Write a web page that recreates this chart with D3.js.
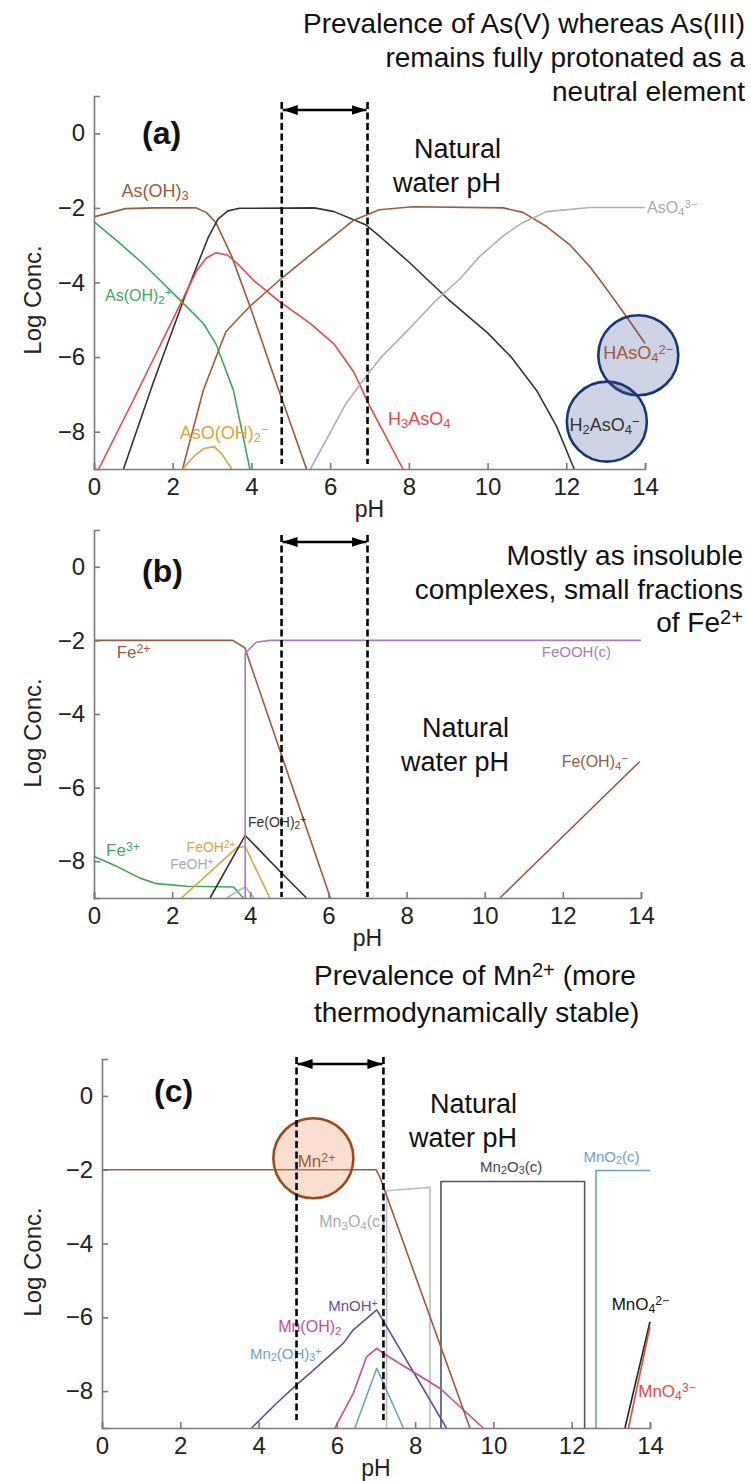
<!DOCTYPE html>
<html>
<head>
<meta charset="utf-8">
<script src="https://cdn.jsdelivr.net/npm/d3@7"></script>
<style>
body { margin: 0; background: #fff; }
svg text { font-family: "Liberation Sans", Arial, sans-serif; }
</style>
</head>
<body>
<svg id="chart" width="751" height="1481"></svg>
<script>
// axes
const phTicks = [0, 2, 4, 6, 8, 10, 12, 14];
const logTicks = [0, -2, -4, -6, -8];
const phDomain = [0, 14];
const logDomain = [-9, 1];

// (a) arsenic species  [pH, log conc]
const asOH3 = [[0,-2.24],[0.8,-2.02],[1.5,-2.0],[2.6,-2.0],[2.85,-2.12],[3.1,-2.4],[3.5,-3.3],[4.0,-4.75],[4.6,-6.6],[5.4,-9]];
const h2AsO4 = [[0.75,-9],[1.5,-6.7],[2.3,-4.4],[2.9,-2.8],[3.15,-2.3],[3.4,-2.08],[3.7,-2.01],[5.6,-2.0],[6.1,-2.1],[6.9,-2.45],[7.3,-2.8],[8.0,-3.45],[9.0,-4.45],[10.0,-5.35],[10.6,-6.0],[11.25,-6.9],[11.75,-7.85],[12.2,-9]];
const h3AsO4 = [[0.12,-9],[1.0,-7.15],[2.23,-4.5],[2.6,-3.7],[2.85,-3.35],[3.1,-3.2],[3.4,-3.27],[3.7,-3.55],[4.05,-3.94],[4.7,-4.5],[5.5,-5.1],[6.1,-5.65],[6.6,-6.4],[7.0,-7.3],[7.4,-8.1],[7.85,-9]];
const asOH2 = [[0,-2.37],[0.6,-2.9],[1.2,-3.45],[1.68,-3.94],[2.23,-4.52],[2.78,-5.1],[3.1,-5.65],[3.54,-6.88],[3.96,-9]];
const hAsO4 = [[2.25,-9],[2.78,-6.88],[3.35,-5.32],[3.95,-4.65],[4.75,-3.9],[5.65,-3.13],[6.6,-2.33],[7.25,-2.05],[8.1,-1.97],[10.4,-2.0],[10.9,-2.12],[11.5,-2.5],[12.1,-3.0],[12.6,-3.58],[12.86,-3.94],[13.2,-4.43],[13.53,-4.92],[14,-5.63]];
const asO4 = [[5.5,-9],[6.4,-7.25],[7.0,-6.4],[7.3,-6.0],[8.0,-5.25],[8.7,-4.47],[9.3,-3.9],[9.8,-3.3],[10.4,-2.75],[10.85,-2.42],[11.5,-2.1],[12.6,-1.99],[14,-1.99]];
const asOOH2 = [[2.25,-9],[2.55,-8.65],[2.8,-8.45],[3.05,-8.4],[3.25,-8.6],[3.5,-9]];
const circlesA = [[13.83,-5.95],[13.03,-7.73]];

// (b) iron species
const fe2 = [[0,-2],[3.55,-2],[3.86,-2.2],[6.05,-9]];
const feOOH = [[3.87,-9],[3.87,-2.35],[4.15,-2.05],[4.5,-2.0],[14,-2.0]];
const fe3 = [[0,-7.87],[0.58,-8.14],[1.18,-8.46],[1.6,-8.61],[2.37,-8.68],[3.57,-8.7],[3.82,-9]];
const feOH2p = [[2.24,-9],[3.65,-7.64],[3.87,-7.6],[4.5,-9]];
const feOH2 = [[2.97,-9],[3.87,-7.3],[4.8,-8.32],[5.44,-9]];
const feOHp = [[3.4,-9],[3.7,-8.8],[3.87,-8.7],[4.1,-9]];
const feOH4 = [[10.39,-9],[12.0,-7.33],[13.97,-5.29]];

// (c) manganese species
const mn2 = [[0,-2],[7.0,-2],[7.1,-2.2],[9.4,-9]];
const mn3O4 = [[7.27,-9],[7.27,-2.57],[8.38,-2.48],[8.38,-9]];
const mn2O3 = [[8.66,-9],[8.66,-2.32],[12.33,-2.32],[12.33,-9]];
const mnO2 = [[12.62,-9],[12.62,-2.02],[14,-2.02]];
const mnOHp = [[3.82,-9],[4.46,-8.33],[4.97,-7.83],[5.36,-7.47],[6.17,-6.7],[6.42,-6.34],[7.02,-5.8],[8.8,-9]];
const mnOH2 = [[5.95,-9],[6.42,-8.06],[6.76,-7.07],[7.02,-6.84],[7.19,-6.98],[8.64,-7.93],[9.74,-9]];
const mn2OH3 = [[6.46,-9],[7.02,-7.38],[7.7,-9]];
const mnO4_2 = [[13.36,-9],[14,-6.12]];
const mnO4_3 = [[13.45,-9],[14,-6.25]];
const circlesC = [[5.4,-1.69]];

// natural water pH band for each panel
const natA = [4.77, 6.95];
const natB = [4.8, 7.0];
const natC = [4.97, 7.19];

// colours
const brown = "#a0583c", green = "#3fa65a", red = "#f04444", orange = "#d9a443",
      grey = "#b0b0b0", dark = "#333333", purple = "#a67cc6", indigo = "#5b509f",
      magenta = "#c9489b", blue = "#6a9fd8";

const panels = [
  {
    x: [94, 645], y: [469, 96], nat: natA, arrowY: 110, dash: [102, 464],
    tag: [142, 144, "(a)"], natText: [501, 158], yLab: 300,
    series: [[asOH3, brown], [h2AsO4, dark], [h3AsO4, red], [asOH2, green], [hAsO4, brown], [asO4, grey], [asOOH2, orange]],
    circles: circlesA.map(c => [c, "rgba(60,82,150,0.26)", "#1b3675"]),
    labels: [
      ["As(OH)_{3}", 0.70, -1.71, brown, 18, "start"],
      ["As(OH)_{2}^{+}", 0.28, -4.49, green, 16, "start"],
      ["AsO(OH)_{2}^{−}", 2.18, -8.2, orange, 18, "start"],
      ["H_{3}AsO_{4}", 7.47, -7.82, red, 18, "start"],
      ["AsO_{4}^{3−}", 14.05, -2.14, "#aaaaaa", 16, "start"],
      ["HAsO_{4}^{2−}", 13.83, -6.05, brown, 18, "middle"],
      ["H_{2}AsO_{4}^{−}", 12.97, -7.97, dark, 18, "middle"]
    ],
    notes: [[745, "end", ["Prevalence of As(V) whereas As(III)", "remains fully protonated as a", "neutral element"], 33, 34]]
  },
  {
    x: [94, 641], y: [898, 530], nat: natB, arrowY: 542, dash: [535, 897],
    tag: [142, 582, "(b)"], natText: [509, 737], yLab: 733,
    series: [[fe3, green], [feOHp, grey], [feOH2p, orange], [feOH2, dark], [fe2, brown], [feOOH, purple], [feOH4, brown]],
    circles: [],
    labels: [
      ["Fe^{2+}", 0.58, -2.47, brown, 17, "start"],
      ["FeOOH(c)", 11.46, -2.45, purple, 15, "start"],
      ["Fe^{3+}", 0.31, -7.87, green, 17, "start"],
      ["FeOH^{2+}", 2.37, -7.76, orange, 14, "start"],
      ["FeOH^{+}", 1.95, -8.21, "#aaaaaa", 14, "start"],
      ["Fe(OH)_{2}^{+}", 3.94, -7.07, dark, 14, "start"],
      ["Fe(OH)_{4}^{−}", 11.97, -5.43, brown, 16, "start"]
    ],
    notes: [[743, "end", ["Mostly as insoluble", "complexes, small fractions", "of Fe^{2+}"], 565, 33.5]]
  },
  {
    x: [102, 650], y: [1428, 1059], nat: natC, arrowY: 1064, dash: [1057, 1420],
    tag: [154, 1102, "(c)"], natText: [517, 1113], yLab: 1262,
    series: [[mn3O4, "#bdbdbd"], [mn2O3, "#555555"], [mnO2, blue], [mnOHp, indigo], [mnOH2, magenta], [mn2OH3, blue], [mn2, brown], [mnO4_2, "#222222"], [mnO4_3, red]],
    circles: circlesC.map(c => [c, "rgba(240,150,100,0.3)", "#9c4a1c"]),
    labels: [
      ["Mn^{2+}", 5.48, -1.92, brown, 17, "middle"],
      ["Mn_{3}O_{4}(c)", 5.55, -3.54, "#aaaaaa", 16, "start"],
      ["Mn_{2}O_{3}(c)", 9.66, -2.05, "#444444", 15, "start"],
      ["MnO_{2}(c)", 12.3, -1.78, blue, 15, "start"],
      ["MnOH^{+}", 5.78, -5.83, indigo, 15, "start"],
      ["Mn(OH)_{2}", 4.5, -6.4, magenta, 16, "start"],
      ["Mn_{2}(OH)_{3}^{+}", 3.78, -7.13, blue, 15, "start"],
      ["MnO_{4}^{2−}", 13.02, -5.8, "#111111", 17, "start"],
      ["MnO_{4}^{3−}", 13.7, -8.15, red, 17, "start"]
    ],
    notes: [[314, "start", ["Prevalence of Mn^{2+} (more", "thermodynamically stable)"], 985, 37]]
  }
];

const svg = d3.select("#chart");

// arrow head
svg.append("defs").append("marker")
    .attr("id", "head")
    .attr("markerUnits", "userSpaceOnUse")
    .attr("viewBox", "0 0 15 10")
    .attr("markerWidth", 15)
    .attr("markerHeight", 10)
    .attr("refX", 15)
    .attr("refY", 5)
    .attr("orient", "auto-start-reverse")
  .append("path")
    .attr("d", "M0,0L15,5L0,10Z")
    .attr("fill", "#000");

// write text with _{sub} and ^{sup} parts
function rich(sel, str) {
  str.split(/(_\{[^}]*\}|\^\{[^}]*\})/).filter(s => s.length).forEach(function(s) {
    if (s[0] == "_" || s[0] == "^") {
      sel.append("tspan")
        .attr("font-size", "72%")
        .attr("baseline-shift", s[0] == "_" ? "-22%" : "38%")
        .text(s.slice(2, -1));
    } else {
      sel.append("tspan").text(s);
    }
  });
}

panels.forEach(function(p) {
  const x = d3.scaleLinear().domain(phDomain).range(p.x);
  const y = d3.scaleLinear().domain(logDomain).range(p.y);
  const g = svg.append("g");

  const line = d3.line()
      .x(d => x(d[0]))
      .y(d => y(d[1]));

  // species curves
  p.series.forEach(function(s) {
    g.append("path")
      .attr("d", line(s[0]))
      .attr("fill", "none")
      .attr("stroke", s[1])
      .attr("stroke-width", 1.6)
      .attr("stroke-linejoin", "round");
  });

  // highlight circles
  p.circles.forEach(function(c) {
    g.append("circle")
      .attr("cx", x(c[0][0]))
      .attr("cy", y(c[0][1]))
      .attr("r", 40)
      .attr("fill", c[1])
      .attr("stroke", c[2])
      .attr("stroke-width", 2.6);
  });

  // species labels
  p.labels.forEach(function(l) {
    const t = g.append("text")
      .attr("x", x(l[1]))
      .attr("y", y(l[2]))
      .attr("fill", l[3])
      .attr("font-size", l[4] + "px")
      .attr("text-anchor", l[5]);
    rich(t, l[0]);
  });

  // axes
  const xAxis = g.append("g")
      .attr("transform", "translate(0," + p.y[0] + ")")
      .call(d3.axisBottom(x).tickValues(phTicks).tickSize(-6).tickPadding(9).tickFormat(d3.format("d")));
  const yAxis = g.append("g")
      .attr("transform", "translate(" + p.x[0] + ",0)")
      .call(d3.axisLeft(y).tickValues(logTicks).tickSize(-6).tickPadding(9).tickFormat(d3.format("d")));
  [xAxis, yAxis].forEach(function(a) {
    a.select(".domain").attr("stroke", "#7a7a7a").attr("stroke-width", 1.6);
    a.selectAll(".tick line").attr("stroke", "#7a7a7a").attr("stroke-width", 1.6);
    a.selectAll(".tick text").attr("fill", "#222").attr("font-size", "24px")
      .attr("font-family", "Liberation Sans, Arial, sans-serif");
  });

  g.append("text")
    .attr("x", (p.x[0] + p.x[1]) / 2)
    .attr("y", p.y[0] + 48)
    .attr("text-anchor", "middle")
    .attr("font-size", "23px")
    .attr("fill", "#222")
    .text("pH");

  g.append("text")
    .attr("transform", "translate(41," + p.yLab + ") rotate(-90)")
    .attr("text-anchor", "middle")
    .attr("font-size", "24px")
    .attr("fill", "#222")
    .text("Log Conc.");

  // natural water pH band
  p.nat.forEach(function(v) {
    g.append("line")
      .attr("x1", x(v)).attr("x2", x(v))
      .attr("y1", p.dash[0]).attr("y2", p.dash[1])
      .attr("stroke", "#000")
      .attr("stroke-width", 2.6)
      .attr("stroke-dasharray", "7,3.5");
  });
  g.append("line")
    .attr("x1", x(p.nat[0]) + 1).attr("x2", x(p.nat[1]) - 1)
    .attr("y1", p.arrowY).attr("y2", p.arrowY)
    .attr("stroke", "#000")
    .attr("stroke-width", 2.6)
    .attr("marker-start", "url(#head)")
    .attr("marker-end", "url(#head)");

  g.append("text")
    .attr("x", p.tag[0])
    .attr("y", p.tag[1])
    .attr("font-size", "32px")
    .attr("font-weight", "bold")
    .attr("fill", "#111")
    .text(p.tag[2]);

  ["Natural", "water pH"].forEach(function(s, i) {
    g.append("text")
      .attr("x", p.natText[0])
      .attr("y", p.natText[1] + i * 34)
      .attr("text-anchor", "end")
      .attr("font-size", "27px")
      .attr("fill", "#111")
      .text(s);
  });

  // explanatory notes
  p.notes.forEach(function(n) {
    n[2].forEach(function(s, i) {
      const t = g.append("text")
        .attr("x", n[0])
        .attr("y", n[3] + i * n[4])
        .attr("text-anchor", n[1])
        .attr("font-size", "28px")
        .attr("fill", "#111");
      rich(t, s);
    });
  });
});
</script>
</body>
</html>
